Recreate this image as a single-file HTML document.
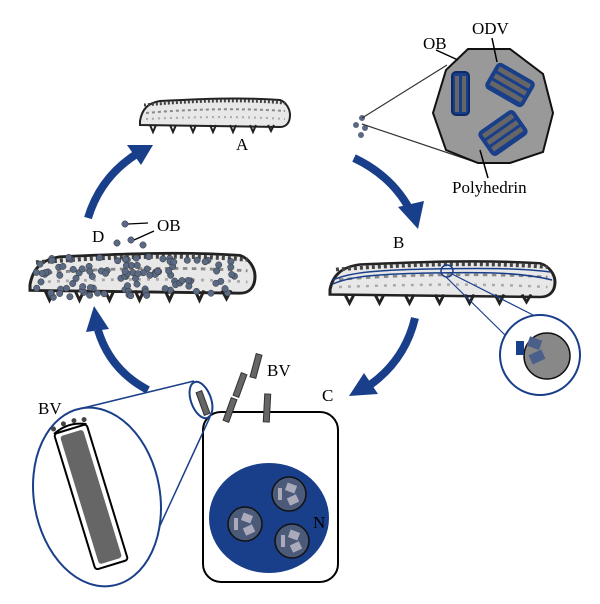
<!DOCTYPE html>
<html><head><meta charset="utf-8"><style>
html,body{margin:0;padding:0;background:#fff}
svg{display:block}
text{font-family:"Liberation Serif",serif;font-size:17px;fill:#000}
</style></head><body>
<svg id="s" width="600" height="604" viewBox="0 0 600 604" xmlns="http://www.w3.org/2000/svg">
<defs>
<g id="cat">
<path d="M0,22 C2,10 8,4 20,2 C60,0 100,-2 140,1 C146,3 150,10 150,16 C150,24 146,28 140,28 L0,26 Z" fill="#e8e8e8" stroke="#222" stroke-width="2"/>
<path d="M4,6 C50,2 100,0 145,4" fill="none" stroke="#444" stroke-width="3" stroke-dasharray="2 2"/>
<path d="M6,14 C50,10 100,9 145,12" fill="none" stroke="#888" stroke-width="2" stroke-dasharray="3 3"/>
<path d="M6,20 C50,18 100,17 145,20" fill="none" stroke="#aaa" stroke-width="2" stroke-dasharray="2 4"/>
<path d="M10,26 l3,7 l3,-7 M30,26 l3,7 l3,-7 M50,26 l3,7 l3,-7 M70,26 l3,7 l3,-7 M90,26 l3,7 l3,-7 M110,26 l3,7 l3,-7 M128,26 l3,6 l3,-6" fill="none" stroke="#222" stroke-width="2"/>
</g>
</defs>

<use href="#cat" transform="translate(140,99)"/>
<text x="236" y="150">A</text>
<g fill="#5a6a85"><circle cx="362" cy="118" r="3"/><circle cx="356" cy="125" r="3"/><circle cx="365" cy="128" r="3"/><circle cx="361" cy="135" r="3"/></g>
<line x1="362" y1="118" x2="447" y2="65" stroke="#333" stroke-width="1.2"/>
<line x1="362" y1="124" x2="478" y2="163" stroke="#333" stroke-width="1.2"/>
<polygon points="468,49 510,49 543,74 553,113 543,152 510,163 478,163 446,150 433,113 446,70" fill="#999" stroke="#111" stroke-width="2"/>
<rect x="452" y="72" width="17" height="43" rx="4" fill="#1a3f8a" stroke="#0e2a66" stroke-width="2"/>
<rect x="455" y="76" width="4" height="36" fill="#666"/><rect x="462" y="76" width="4" height="36" fill="#666"/>
<g transform="translate(510,85) rotate(30)"><rect x="-22" y="-15" width="44" height="30" rx="5" fill="#1a3f8a"/><rect x="-18" y="-11" width="36" height="5" fill="#666"/><rect x="-18" y="-3" width="36" height="5" fill="#666"/><rect x="-18" y="5" width="36" height="5" fill="#666"/></g>
<g transform="translate(503,133) rotate(-35)"><rect x="-22" y="-15" width="44" height="30" rx="5" fill="#1a3f8a"/><rect x="-18" y="-11" width="36" height="5" fill="#666"/><rect x="-18" y="-3" width="36" height="5" fill="#666"/><rect x="-18" y="5" width="36" height="5" fill="#666"/></g>
<line x1="436" y1="50" x2="458" y2="60" stroke="#000" stroke-width="1.5"/>
<line x1="492" y1="38" x2="497" y2="62" stroke="#000" stroke-width="1.5"/>
<line x1="480" y1="150" x2="488" y2="178" stroke="#000" stroke-width="1.5"/>
<text x="423" y="49">OB</text>
<text x="472" y="34">ODV</text>
<text x="452" y="193">Polyhedrin</text>

<path d="M354,158 Q392,176 410,210" fill="none" stroke="#1a3f8a" stroke-width="8"/>
<polygon points="418,229 398,207 424,201" fill="#1a3f8a"/>
<path d="M415,318 Q405,360 370,385" fill="none" stroke="#1a3f8a" stroke-width="8"/>
<polygon points="349,396 364,373 378,394" fill="#1a3f8a"/>
<path d="M148,390 Q110,370 98,330" fill="none" stroke="#1a3f8a" stroke-width="8"/>
<polygon points="94,306 86,332 109,329" fill="#1a3f8a"/>
<path d="M88,218 Q100,178 135,155" fill="none" stroke="#1a3f8a" stroke-width="8"/>
<polygon points="153,145 127,145 141,165" fill="#1a3f8a"/>

<use href="#cat" transform="translate(330,262) scale(1.5,1.25)"/>
<path d="M333,280 C350,272 380,270 430,269 C480,268 520,268 550,272" fill="none" stroke="#1a3f8a" stroke-width="1.5"/>
<path d="M333,284 C350,276 380,274 430,273 C480,272 520,272 552,280" fill="none" stroke="#1a3f8a" stroke-width="1.5"/>
<text x="393" y="248">B</text>
<circle cx="447" cy="271" r="6" fill="none" stroke="#1a3f8a" stroke-width="1.5"/>
<line x1="446" y1="277" x2="506" y2="336" stroke="#1a3f8a" stroke-width="1.2"/>
<line x1="452" y1="274" x2="535" y2="316" stroke="#1a3f8a" stroke-width="1.2"/>
<circle cx="540" cy="355" r="40" fill="#fff" stroke="#1a3f8a" stroke-width="2"/>
<circle cx="547" cy="356" r="23" fill="#888" stroke="#111" stroke-width="1.5"/>
<rect x="516" y="341" width="8" height="14" fill="#1a3f8a"/>
<rect x="528" y="338" width="13" height="10" fill="#4a5f8a" transform="rotate(20 534 343)"/>
<rect x="530" y="352" width="14" height="10" fill="#4a5f8a" transform="rotate(-25 537 357)"/>

<use href="#cat" transform="translate(30,254) scale(1.5,1.4)"/>
<text x="92" y="242">D</text>
<text x="157" y="231">OB</text>
<line x1="128" y1="224" x2="148" y2="223" stroke="#000" stroke-width="1.3"/>
<line x1="134" y1="240" x2="154" y2="231" stroke="#000" stroke-width="1.3"/>
<g id="dots" fill="#5a6a85" stroke="#333" stroke-width="0.5">
<circle cx="125" cy="224" r="3.2"/><circle cx="131" cy="240" r="3.2"/><circle cx="117" cy="243" r="3.2"/><circle cx="143" cy="245" r="3.2"/>
</g>

<rect x="203" y="412" width="135" height="170" rx="18" fill="#fff" stroke="#000" stroke-width="2"/>
<ellipse cx="269" cy="518" rx="60" ry="55" fill="#1a3f8a"/>
<g stroke="#111" stroke-width="1.5" fill="#4a5a78">
<circle cx="289" cy="494" r="17"/><circle cx="245" cy="524" r="17"/><circle cx="292" cy="541" r="17"/>
</g>
<g fill="#aab">
<rect x="278" y="488" width="4" height="12"/><rect x="286" y="484" width="10" height="8" transform="rotate(20 291 488)"/><rect x="288" y="496" width="10" height="8" transform="rotate(-25 293 500)"/>
<rect x="234" y="518" width="4" height="12"/><rect x="242" y="514" width="10" height="8" transform="rotate(20 247 518)"/><rect x="244" y="526" width="10" height="8" transform="rotate(-25 249 530)"/>
<rect x="281" y="535" width="4" height="12"/><rect x="289" y="531" width="10" height="8" transform="rotate(20 294 535)"/><rect x="291" y="543" width="10" height="8" transform="rotate(-25 296 547)"/>
</g>
<text x="313" y="528">N</text>
<text x="322" y="401">C</text>
<text x="267" y="376">BV</text>
<g fill="#666" stroke="#333" stroke-width="1">
<rect x="-3" y="-12" width="6" height="24" transform="translate(230,410) rotate(20)"/>
<rect x="-3" y="-12" width="6" height="24" transform="translate(240,385) rotate(20)"/>
<rect x="-3" y="-12" width="6" height="24" transform="translate(256,366) rotate(15)"/>
<rect x="-3" y="-14" width="6" height="28" transform="translate(267,408) rotate(3)"/>
<rect x="-3" y="-12" width="6" height="24" transform="translate(203,403) rotate(-20)"/>
</g>
<ellipse cx="201" cy="400" rx="10" ry="19" fill="none" stroke="#1a3f8a" stroke-width="2" transform="rotate(-20 201 400)"/>
<line x1="194" y1="381" x2="75" y2="410" stroke="#1a3f8a" stroke-width="1.5"/>
<line x1="210" y1="417" x2="158" y2="530" stroke="#1a3f8a" stroke-width="1.5"/>
<ellipse cx="97" cy="497" rx="63" ry="90" fill="#fff" stroke="#1a3f8a" stroke-width="2" transform="rotate(-10 97 497)"/>
<g transform="translate(54,434) rotate(-17)">
<rect x="0" y="0" width="34" height="142" rx="3" fill="#fff" stroke="#000" stroke-width="2"/>
<rect x="5" y="4" width="24" height="134" rx="3" fill="#666"/>
<path d="M0,0 q17,-8 34,0" fill="none" stroke="#000" stroke-width="2"/>
<g fill="#444"><circle cx="1" cy="-5" r="2.5"/><circle cx="12" cy="-7" r="2.5"/><circle cx="23" cy="-7" r="2.5"/><circle cx="33" cy="-5" r="2.5"/></g>
</g>
<text x="38" y="414">BV</text>
<script>
var g=document.getElementById('dots'),s=7;
function r(){s=(s*9301+49297)%233280;return s/233280;}
for(var i=0;i<110;i++){var x=35+r()*205,y=258+r()*40-(x-35)*0.02;var c=document.createElementNS('http://www.w3.org/2000/svg','circle');c.setAttribute('cx',x.toFixed(1));c.setAttribute('cy',y.toFixed(1));c.setAttribute('r','3.2');g.appendChild(c);}
</script>
</svg>
</body></html>
